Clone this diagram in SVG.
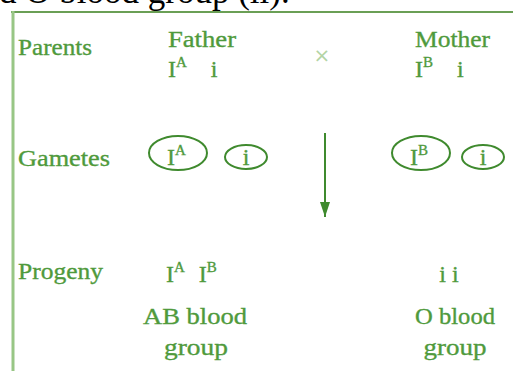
<svg xmlns="http://www.w3.org/2000/svg" width="513" height="371" viewBox="0 0 513 371">
<style>
.lbl{font-family:"Liberation Serif","Times New Roman",serif;font-size:24px;fill:#4f9a3c;stroke:#4f9a3c;stroke-width:0.35}
.sup{font-size:15px}
.gam{fill:none;stroke:#3f8a2e;stroke-width:2}
.top{font-family:"Liberation Serif","Times New Roman",serif;font-size:35px;fill:#000}
</style>
<defs>
<marker id="ah" viewBox="0 0 15 10" refX="15" refY="5" markerWidth="7.5" markerHeight="5" markerUnits="strokeWidth" orient="auto">
<path d="M0,0 L15,5 L0,10 z" fill="#3f8a2e"/>
</marker>
</defs>
<rect x="0" y="0" width="513" height="371" fill="#fff"/>
<text class="top" x="-1" y="3">d O blood group (ii).</text>
<g id="frame">
<line x1="11" y1="12" x2="513" y2="12" stroke="#6a9f55" stroke-width="2"/>
<line x1="13" y1="11" x2="13" y2="371" stroke="#98c685" stroke-width="3"/>
</g>
<g id="row-labels">
<text class="lbl" x="18" y="55" textLength="74" lengthAdjust="spacingAndGlyphs">Parents</text>
<text class="lbl" x="18" y="166" textLength="92" lengthAdjust="spacingAndGlyphs">Gametes</text>
<text class="lbl" x="18" y="279" textLength="85" lengthAdjust="spacingAndGlyphs">Progeny</text>
</g>
<g id="father">
<text class="lbl" x="168" y="47" textLength="68" lengthAdjust="spacingAndGlyphs">Father</text>
<text class="lbl" x="168" y="77">I<tspan class="sup" dy="-10">A</tspan><tspan dy="10" dx="24">i</tspan></text>
</g>
<g id="cross">
<text x="322" y="62" text-anchor="middle" style="font-family:'DejaVu Sans',sans-serif;fill:#b3d4a5;font-size:20px">×</text>
</g>
<g id="mother">
<text class="lbl" x="415" y="47" textLength="75" lengthAdjust="spacingAndGlyphs">Mother</text>
<text class="lbl" x="415" y="77">I<tspan class="sup" dy="-10">B</tspan><tspan dy="10" dx="24">i</tspan></text>
</g>
<g id="gamete-IA">
<ellipse class="gam" cx="178" cy="153" rx="29" ry="17"/>
<text class="lbl" x="167" y="165">I<tspan class="sup" dy="-10">A</tspan></text>
</g>
<g id="gamete-i-father">
<ellipse class="gam" cx="246" cy="157" rx="21" ry="12"/>
<text class="lbl" x="246" y="165" text-anchor="middle">i</text>
</g>
<g id="gamete-IB">
<ellipse class="gam" cx="421" cy="153" rx="29" ry="17"/>
<text class="lbl" x="410" y="165">I<tspan class="sup" dy="-10">B</tspan></text>
</g>
<g id="gamete-i-mother">
<ellipse class="gam" cx="483" cy="157" rx="21" ry="12"/>
<text class="lbl" x="483" y="165" text-anchor="middle">i</text>
</g>
<g id="connectors">
<line x1="325" y1="133" x2="325" y2="217" stroke="#3f8a2e" stroke-width="2" marker-end="url(#ah)"/>
</g>
<g id="progeny-AB">
<text class="lbl" x="166" y="282">I<tspan class="sup" dy="-10">A</tspan><tspan dy="10" dx="14">I</tspan><tspan class="sup" dy="-10">B</tspan></text>
<text class="lbl" x="195" y="324" text-anchor="middle" textLength="104" lengthAdjust="spacingAndGlyphs">AB blood</text>
<text class="lbl" x="196" y="355" text-anchor="middle" textLength="64" lengthAdjust="spacingAndGlyphs">group</text>
</g>
<g id="progeny-O">
<text class="lbl" x="449" y="282" text-anchor="middle">i i</text>
<text class="lbl" x="455" y="324" text-anchor="middle" textLength="80" lengthAdjust="spacingAndGlyphs">O blood</text>
<text class="lbl" x="455" y="355" text-anchor="middle" textLength="63" lengthAdjust="spacingAndGlyphs">group</text>
</g>
</svg>
